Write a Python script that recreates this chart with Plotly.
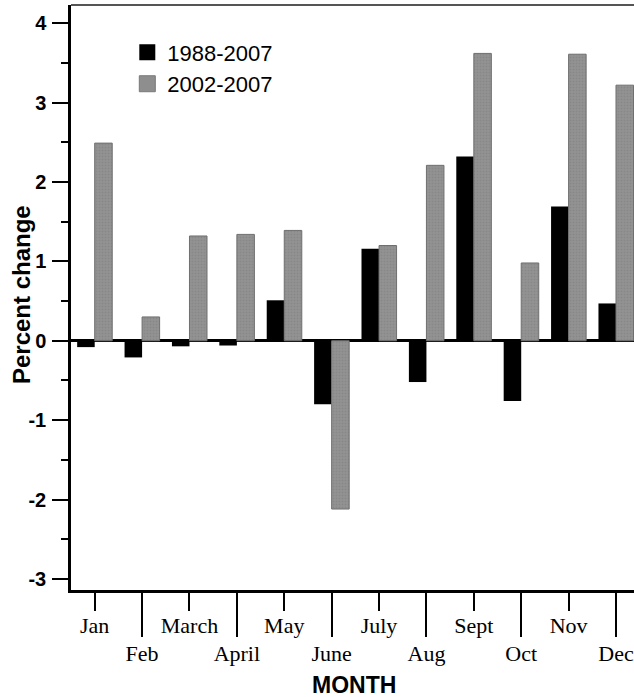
import plotly.graph_objects as go

months = ["Jan", "Feb", "March", "April", "May", "June",
          "July", "Aug", "Sept", "Oct", "Nov", "Dec"]
series_names = ["1988-2007", "2002-2007"]
vals_1988_2007 = [-0.08, -0.21, -0.07, -0.06, 0.51, -0.80,
                  1.16, -0.52, 2.32, -0.76, 1.69, 0.47]
vals_2002_2007 = [2.49, 0.30, 1.32, 1.34, 1.39, -2.12,
                  1.20, 2.21, 3.62, 0.98, 3.61, 3.22]
y_ticks = [-3, -2, -1, 0, 1, 2, 3, 4]
y_ticktext = ["-3", "-2", "-1", "0", "1", "2", "3", "4"]

odd_months = months[0::2]
even_months = months[1::2]

BLACK = "#000000"
GRAY = "#8e8e8e"

fig = go.Figure()
fig.add_trace(go.Bar(x=months, y=vals_1988_2007, name=series_names[0],
                     marker=dict(color=BLACK, line=dict(width=0)),
                     showlegend=False))
fig.add_trace(go.Bar(x=months, y=vals_2002_2007, name=series_names[1],
                     marker=dict(color=GRAY, line=dict(color="#6f6f6f", width=1),
                                 pattern=dict(shape=".", bgcolor="#939393",
                                              fgcolor="#7c7c7c", size=3,
                                              solidity=0.35)),
                     showlegend=False))
# legend entries
fig.add_trace(go.Scatter(x=[None], y=[None], mode="markers", name=series_names[0],
                         marker=dict(symbol="square", size=20, color=BLACK)))
fig.add_trace(go.Scatter(x=[None], y=[None], mode="markers", name=series_names[1],
                         marker=dict(symbol="square", size=20, color=GRAY,
                                     line=dict(color="#7a7a7a", width=1))))

# long-tick overlay axis for even months
fig.add_trace(go.Bar(x=months, y=[None] * len(months), xaxis="x2",
                     showlegend=False, hoverinfo="skip"))

xrange = [-0.5, 11.38]
label_font = dict(family="Liberation Serif", size=22, color="black")

fig.update_layout(
    width=634, height=697,
    margin=dict(l=71, r=0, t=5, b=107),
    paper_bgcolor="white", plot_bgcolor="white",
    barmode="group", bargap=0.26, bargroupgap=0.0,
    showlegend=True,
    legend=dict(x=0.1, y=0.955, xanchor="left", yanchor="top",
                font=dict(family="Liberation Sans", size=22, color="black"),
                bgcolor="rgba(0,0,0,0)", itemsizing="trace"),
    xaxis=dict(type="category", categoryorder="array", categoryarray=months,
               range=xrange, tickmode="array", tickvals=odd_months,
               ticktext=odd_months, ticks="outside", ticklen=18, tickwidth=2,
               tickcolor="black", tickfont=label_font, ticklabelstandoff=-4,
               showline=True, linecolor="black", linewidth=2.5,
               showgrid=False, zeroline=False),
    xaxis2=dict(type="category", categoryorder="array", categoryarray=months,
                range=xrange, overlaying="x", anchor="y", side="bottom",
                tickmode="array", tickvals=even_months, ticktext=even_months,
                ticks="outside", ticklen=46, tickwidth=2, tickcolor="black",
                tickfont=label_font, ticklabelstandoff=-2,
                showline=False, showgrid=False, zeroline=False),
    yaxis=dict(range=[-3.14, 4.23], tickmode="array", tickvals=y_ticks,
               ticktext=y_ticktext,
               ticks="outside", ticklen=16, tickwidth=2, tickcolor="black",
               tickfont=dict(family="Liberation Sans", size=20, color="black",
                             weight="bold"),
               ticklabelstandoff=2,
               minor=dict(dtick=0.5, ticks="outside", ticklen=7, tickwidth=2,
                          tickcolor="black", showgrid=False),
               showline=True, linecolor="black", linewidth=2.5,
               showgrid=False, zeroline=True, zerolinecolor="black",
               zerolinewidth=3),
    shapes=[dict(type="line", xref="paper", yref="paper", x0=0, x1=1, y0=1, y1=1,
                 line=dict(color="#555555", width=2))],
    annotations=[
        dict(text="<b>Percent change</b>", xref="paper", yref="paper",
             x=-0.088, y=0.505, xanchor="center", yanchor="middle",
             textangle=-90, showarrow=False,
             font=dict(family="Liberation Sans", size=24, color="black")),
        dict(text="<b>MONTH</b>", xref="paper", yref="paper",
             x=0.503, y=-0.162, xanchor="center", yanchor="middle",
             showarrow=False,
             font=dict(family="Liberation Sans", size=23, color="black")),
    ],
)

fig.write_html("out.html")
